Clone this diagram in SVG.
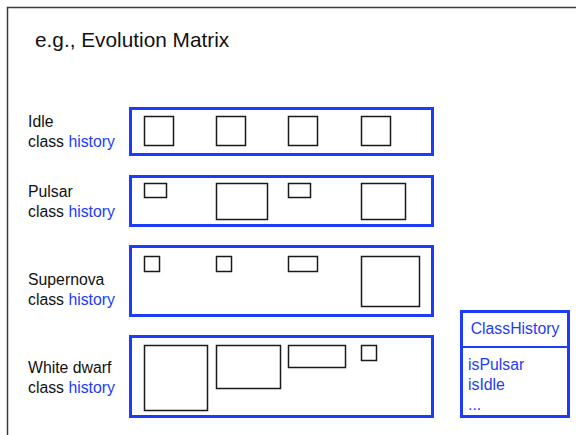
<svg xmlns="http://www.w3.org/2000/svg" width="576" height="435" viewBox="0 0 576 435">
  <style>
    text { font-family: "Gill Sans", "Liberation Sans", Arial, sans-serif; fill: #111; }
    .lbl { font-size: 15.8px; }
    .blue { fill: #1d3cfa; }
    .row { fill: none; stroke: #1d3cfa; stroke-width: 3; }
    .cell { fill: #fff; stroke: #1a1a1a; stroke-width: 1.5; }
  </style>

  <rect width="576" height="435" fill="#fff"/>
  <!-- slide frame -->
  <path d="M7.5,435 V7.5 H576" fill="none" stroke="#3a3a3a" stroke-width="1.5"/>

  <text x="35" y="47" font-size="20.8">e.g., Evolution Matrix</text>

  <g id="idle">
    <text class="lbl" x="28" y="127">Idle</text>
    <text class="lbl" x="28" y="147">class <tspan class="blue">history</tspan></text>
    <rect class="row" x="130.5" y="108.5" width="302" height="46"/>
    <rect class="cell" x="144.5" y="116.5" width="29" height="29"/>
    <rect class="cell" x="216.5" y="116.5" width="29" height="29"/>
    <rect class="cell" x="288.5" y="116.5" width="29" height="29"/>
    <rect class="cell" x="361.5" y="116.5" width="29" height="29"/>
  </g>

  <g id="pulsar">
    <text class="lbl" x="28" y="197">Pulsar</text>
    <text class="lbl" x="28" y="217">class <tspan class="blue">history</tspan></text>
    <rect class="row" x="130.5" y="176.5" width="302" height="49"/>
    <rect class="cell" x="144.5" y="183.5" width="22" height="14"/>
    <rect class="cell" x="216.5" y="183.5" width="51" height="36"/>
    <rect class="cell" x="288.5" y="183.5" width="22" height="14"/>
    <rect class="cell" x="361.5" y="183.5" width="44" height="36"/>
  </g>

  <g id="supernova">
    <text class="lbl" x="28" y="285">Supernova</text>
    <text class="lbl" x="28" y="305">class <tspan class="blue">history</tspan></text>
    <rect class="row" x="130.5" y="246.5" width="302" height="69"/>
    <rect class="cell" x="144.5" y="256.5" width="15" height="15"/>
    <rect class="cell" x="216.5" y="256.5" width="15" height="15"/>
    <rect class="cell" x="288.5" y="256.5" width="29" height="15"/>
    <rect class="cell" x="361.5" y="256.5" width="58" height="50"/>
  </g>

  <g id="white-dwarf">
    <text class="lbl" x="28" y="373">White dwarf</text>
    <text class="lbl" x="28" y="393">class <tspan class="blue">history</tspan></text>
    <rect class="row" x="130.5" y="336.5" width="302" height="80"/>
    <rect class="cell" x="144.5" y="345.5" width="63" height="65"/>
    <rect class="cell" x="216.5" y="345.5" width="64" height="43"/>
    <rect class="cell" x="288.5" y="345.5" width="57" height="22"/>
    <rect class="cell" x="361.5" y="345.5" width="15" height="15"/>
  </g>

  <g id="class-history">
    <rect class="row" x="461.5" y="311.5" width="107" height="105" fill="#fff"/>
    <line x1="461.5" y1="347" x2="568.5" y2="347" stroke="#1d3cfa" stroke-width="2"/>
    <text class="lbl blue" x="515" y="334" text-anchor="middle">ClassHistory</text>
    <text class="lbl blue" x="468" y="370">isPulsar</text>
    <text class="lbl blue" x="468" y="390">isIdle</text>
    <text class="lbl blue" x="468" y="410">...</text>
  </g>
</svg>
